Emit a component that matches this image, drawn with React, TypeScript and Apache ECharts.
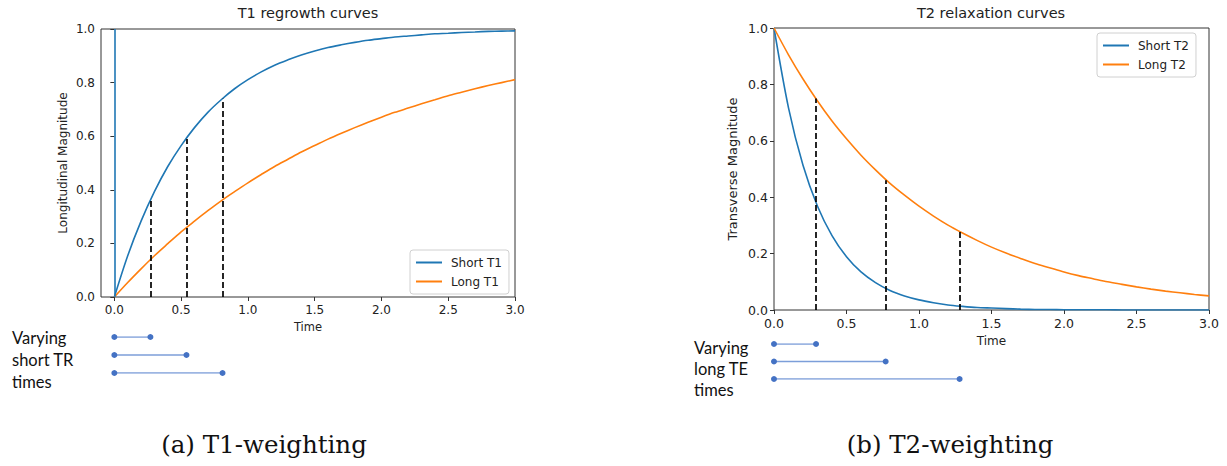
import React, { useEffect, useRef } from "react";
import * as echarts from "echarts";

// ---- data ----
const TIME = [0, 0.1, 0.2, 0.3, 0.4, 0.5, 0.6, 0.7, 0.8, 0.9, 1.0, 1.1, 1.2, 1.3, 1.4, 1.5, 1.6, 1.7, 1.8, 1.9, 2.0, 2.1, 2.2, 2.3, 2.4, 2.5, 2.6, 2.7, 2.8, 2.9, 3.0];
const SHORT_T1 = [0, 0.154, 0.283, 0.393, 0.487, 0.565, 0.632, 0.689, 0.736, 0.777, 0.811, 0.840, 0.865, 0.885, 0.903, 0.918, 0.931, 0.941, 0.950, 0.958, 0.964, 0.970, 0.974, 0.978, 0.982, 0.984, 0.987, 0.989, 0.991, 0.992, 0.993];
const LONG_T1 = [0, 0.054, 0.105, 0.154, 0.199, 0.243, 0.283, 0.322, 0.359, 0.393, 0.426, 0.457, 0.487, 0.514, 0.541, 0.565, 0.589, 0.611, 0.632, 0.652, 0.671, 0.689, 0.705, 0.721, 0.736, 0.751, 0.764, 0.777, 0.789, 0.800, 0.811];
const SHORT_T2 = [1, 0.717, 0.513, 0.368, 0.264, 0.189, 0.135, 0.097, 0.069, 0.050, 0.036, 0.026, 0.018, 0.013, 0.009, 0.007, 0.005, 0.003, 0.002, 0.002, 0.001, 0.001, 0.001, 0.001, 0.0, 0.0, 0.0, 0.0, 0.0, 0.0, 0.0];
const LONG_T2 = [1, 0.905, 0.819, 0.741, 0.670, 0.607, 0.549, 0.497, 0.449, 0.407, 0.368, 0.333, 0.301, 0.273, 0.247, 0.223, 0.202, 0.183, 0.165, 0.150, 0.135, 0.122, 0.111, 0.100, 0.091, 0.082, 0.074, 0.067, 0.061, 0.055, 0.050];

const TR_TIMES = [0.27, 0.54, 0.81];
const TR_TOPS = [0.36, 0.59, 0.74];
const TE_TIMES = [0.29, 0.77, 1.28];
const TE_TOPS = [0.75, 0.46, 0.28];

const X_TICKS = [0, 0.5, 1.0, 1.5, 2.0, 2.5, 3.0];

const BLUE = "#1f77b4";
const ORANGE = "#ff7f0e";
const FONT = "DejaVu Sans";

function zip(xs: number[], ys: number[]) {
  return xs.map((x, i) => [x, ys[i]]);
}

export default function App() {
  const ref = useRef<HTMLDivElement>(null);
  useEffect(() => {
    if (!ref.current) return;
    const chart = echarts.init(ref.current, undefined, { renderer: "svg" });

    const mainX = (gridIndex: number, min: number, fs: number, nameFs: number, margin: number, nameGap: number) => ({
      type: "value",
      gridIndex,
      min,
      max: 3,
      name: "Time",
      nameLocation: "middle",
      nameGap,
      nameTextStyle: { fontFamily: FONT, fontSize: nameFs, color: "#222" },
      axisLine: { show: false },
      splitLine: { show: false },
      axisTick: { show: true, inside: false, length: 4, lineStyle: { color: "#333" }, customValues: X_TICKS },
      axisLabel: {
        customValues: X_TICKS,
        margin,
        fontFamily: FONT,
        fontSize: fs,
        color: "#222",
        formatter: (v: number) => v.toFixed(1),
      },
    });
    const mainY = (gridIndex: number, name: string, fs: number, nameFs: number, nameGap: number) => ({
      type: "value",
      gridIndex,
      min: 0,
      max: 1,
      interval: 0.2,
      name,
      nameLocation: "middle",
      nameGap,
      nameTextStyle: { fontFamily: FONT, fontSize: nameFs, color: "#222" },
      axisLine: { show: false },
      splitLine: { show: false },
      axisTick: { show: true, inside: false, length: 4, lineStyle: { color: "#333" } },
      axisLabel: { margin: 6, fontFamily: FONT, fontSize: fs, color: "#222", formatter: (v: number) => v.toFixed(1) },
    });
    const hidX = (gridIndex: number, min: number) => ({ type: "value", gridIndex, min, max: 3, show: false });
    const hidY = (gridIndex: number) => ({ type: "value", gridIndex, min: 0, max: 2, inverse: true, show: false });

    const curve = (name: string, color: string, data: number[][], xi: number, extra: any = {}) => ({
      name,
      type: "line",
      xAxisIndex: xi,
      yAxisIndex: xi,
      data,
      smooth: 0.3,
      showSymbol: false,
      symbol: "none",
      lineStyle: { color, width: 1.6 },
      itemStyle: { color },
      ...extra,
    });

    const dashed = (xi: number, xs: number[], tops: number[]) => ({
      type: "line",
      xAxisIndex: xi,
      yAxisIndex: xi,
      data: [],
      silent: true,
      z: 5,
      markLine: {
        silent: true,
        symbol: ["none", "none"],
        label: { show: false },
        lineStyle: { type: [6, 3], color: "#000", width: 1.7 },
        data: xs.map((x, i) => [{ coord: [x, 0] }, { coord: [x, tops[i]] }]),
      },
    });

    const annot = (xi: number, xs: number[]) =>
      xs.map((x, i) => ({
        type: "line",
        xAxisIndex: xi,
        yAxisIndex: xi,
        data: [[0, i], [x, i]],
        symbol: "circle",
        symbolSize: 6,
        showSymbol: true,
        silent: true,
        lineStyle: { color: "#7c9ed9", width: 1.3 },
        itemStyle: { color: "#4472c4" },
      }));

    const legend = (left: number, top: number, data: string[]) => ({
      left,
      top,
      orient: "vertical",
      data,
      icon: "rect",
      itemWidth: 26,
      itemHeight: 2,
      itemGap: 4,
      padding: [5, 7, 5, 6],
      backgroundColor: "#fff",
      borderColor: "#d0d0d0",
      borderWidth: 1,
      borderRadius: 3,
      textStyle: { fontFamily: FONT, fontSize: 12, color: "#222", lineHeight: 15, padding: [0, 0, 0, 4] },
    });

    chart.setOption({
      animation: false,
      grid: [
        { left: 101, top: 29, width: 414, height: 268, show: true, borderColor: "#333", borderWidth: 1, backgroundColor: "transparent" },
        { left: 774, top: 28, width: 435, height: 282, show: true, borderColor: "#333", borderWidth: 1, backgroundColor: "transparent" },
        { left: 101, top: 337, width: 414, height: 36 },
        { left: 774, top: 344, width: 435, height: 35 },
      ],
      xAxis: [mainX(0, -0.1, 12, 11.5, 7, 23), mainX(1, 0, 12.5, 12, 7, 25), hidX(2, -0.1), hidX(3, 0)],
      yAxis: [
        mainY(0, "Longitudinal Magnitude", 12, 12, 32),
        mainY(1, "Transverse Magnitude", 12.5, 13, 35),
        hidY(2),
        hidY(3),
      ],
      legend: [legend(410, 250, ["Short T1", "Long T1"]), legend(1097, 33, ["Short T2", "Long T2"])],
      series: [
        curve("Short T1", BLUE, zip(TIME, SHORT_T1), 0, {
          markLine: {
            silent: true,
            symbol: ["none", "none"],
            label: { show: false },
            lineStyle: { type: "solid", color: BLUE, width: 1.6 },
            data: [[{ coord: [0, 0] }, { coord: [0, 1] }]],
          },
        }),
        curve("Long T1", ORANGE, zip(TIME, LONG_T1), 0),
        dashed(0, TR_TIMES, TR_TOPS),
        curve("Short T2", BLUE, zip(TIME, SHORT_T2), 1),
        curve("Long T2", ORANGE, zip(TIME, LONG_T2), 1),
        dashed(1, TE_TIMES, TE_TOPS),
        ...annot(2, TR_TIMES),
        ...annot(3, TE_TIMES),
      ],
      graphic: [
        { type: "text", x: 308, y: 13, style: { text: "T1 regrowth curves", fontFamily: FONT, fontSize: 14.5, fill: "#222", align: "center", verticalAlign: "middle" } },
        { type: "text", x: 991, y: 13, style: { text: "T2 relaxation curves", fontFamily: FONT, fontSize: 14.5, fill: "#222", align: "center", verticalAlign: "middle" } },
        { type: "text", x: 12, y: 327, style: { text: "Varying\nshort TR\ntimes", fontFamily: "Lato", fontSize: 16.5, lineHeight: 22, fill: "#111", align: "left", verticalAlign: "top" } },
        { type: "text", x: 694, y: 337, style: { text: "Varying\nlong TE\ntimes", fontFamily: "Lato", fontSize: 16.5, lineHeight: 21, fill: "#111", align: "left", verticalAlign: "top" } },
        { type: "text", x: 264, y: 444, style: { text: "(a) T1-weighting", fontFamily: "DejaVu Serif", fontSize: 24.5, fill: "#111", align: "center", verticalAlign: "middle" } },
        { type: "text", x: 950, y: 444, style: { text: "(b) T2-weighting", fontFamily: "DejaVu Serif", fontSize: 24.5, fill: "#111", align: "center", verticalAlign: "middle" } },
      ],
    });
    return () => chart.dispose();
  }, []);
  return <div ref={ref} style={{ position: "fixed", left: 0, top: 0, width: 1227, height: 466, background: "#fff" }} />;
}
